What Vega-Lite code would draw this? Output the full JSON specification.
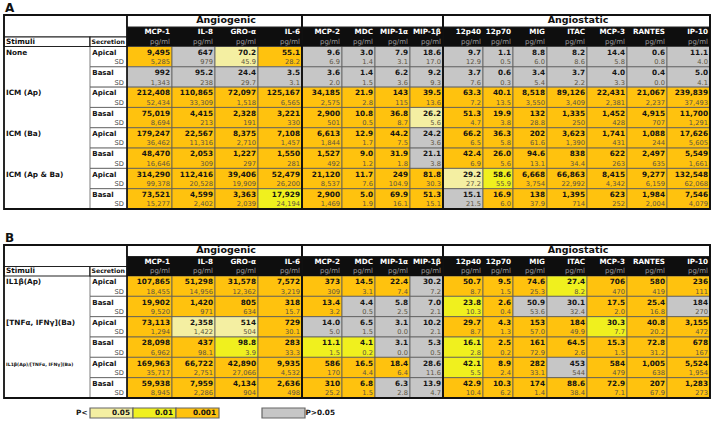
{
"$schema":"https://vega.github.io/schema/vega-lite/v6.json",
"background":"white","padding":0,"spacing":8,"bounds":"flush",
"config":{"view":{"stroke":null},"axis":{"disable":true},"legend":{"disable":true}},
"datasets":{
"panels":[{"g":"A","t":0,"n":1,"u":2,"d":3,"e":19},{"g":"B","t":20,"n":21,"u":22,"d":23,"e":35}],
"rows":[
{"id":"A1","g":"A","st":"None","se":"Apical","r":3},{"id":"A2","g":"A","st":"None","se":"Basal","r":5},
{"id":"A3","g":"A","st":"ICM (Ap)","se":"Apical","r":7},{"id":"A4","g":"A","st":"ICM (Ap)","se":"Basal","r":9},
{"id":"A5","g":"A","st":"ICM (Ba)","se":"Apical","r":11},{"id":"A6","g":"A","st":"ICM (Ba)","se":"Basal","r":13},
{"id":"A7","g":"A","st":"ICM (Ap & Ba)","se":"Apical","r":15},{"id":"A8","g":"A","st":"ICM (Ap & Ba)","se":"Basal","r":17},
{"id":"B1","g":"B","st":"IL1β(Ap)","se":"Apical","r":23},{"id":"B2","g":"B","st":"IL1β(Ap)","se":"Basal","r":25},
{"id":"B3","g":"B","st":"[TNFα, IFNγ](Ba)","se":"Apical","r":27},{"id":"B4","g":"B","st":"[TNFα, IFNγ](Ba)","se":"Basal","r":29},
{"id":"B5","g":"B","st":"IL1β(Ap)/[TNFα, IFNγ](Ba)","se":"Apical","r":31},{"id":"B6","g":"B","st":"IL1β(Ap)/[TNFα, IFNγ](Ba)","se":"Basal","r":33}],
"cols":[
{"an":"MCP-1","c":0,"grp":"Angiogenic"},{"an":"IL-8","c":1,"grp":"Angiogenic"},{"an":"GRO-α","c":2,"grp":"Angiogenic"},{"an":"IL-6","c":3,"grp":"Angiogenic"},
{"an":"MCP-2","c":4,"grp":""},{"an":"MDC","c":5,"grp":""},{"an":"MIP-1α","c":6,"grp":""},{"an":"MIP-1β","c":7,"grp":""},
{"an":"12p40","c":8,"grp":"Angiostatic"},{"an":"12p70","c":9,"grp":"Angiostatic"},{"an":"MIG","c":10,"grp":"Angiostatic"},{"an":"ITAC","c":11,"grp":"Angiostatic"},
{"an":"MCP-3","c":12,"grp":"Angiostatic"},{"an":"RANTES","c":13,"grp":"Angiostatic"},{"an":"IP-10","c":14,"grp":"Angiostatic"}],
"legend":[{"s":"0.05"},{"s":"0.01"},{"s":"0.001"},{"s":"ns"}],
"cells":[
{"id":"A1","an":"MCP-1","v":9495,"sd":5285,"s":"0.001"},{"id":"A1","an":"IL-8","v":647,"sd":979,"s":"ns"},{"id":"A1","an":"GRO-α","v":70.2,"sd":45.9,"s":"0.05"},{"id":"A1","an":"IL-6","v":55.1,"sd":28.2,"s":"0.001"},{"id":"A1","an":"MCP-2","v":9.6,"sd":6.9,"s":"ns"},{"id":"A1","an":"MDC","v":3.0,"sd":1.4,"s":"ns"},{"id":"A1","an":"MIP-1α","v":7.9,"sd":3.1,"s":"ns"},{"id":"A1","an":"MIP-1β","v":18.6,"sd":17.0,"s":"ns"},{"id":"A1","an":"12p40","v":9.7,"sd":12.9,"s":"ns"},{"id":"A1","an":"12p70","v":1.1,"sd":0.5,"s":"ns"},{"id":"A1","an":"MIG","v":8.8,"sd":6.0,"s":"ns"},{"id":"A1","an":"ITAC","v":8.2,"sd":8.6,"s":"ns"},{"id":"A1","an":"MCP-3","v":14.4,"sd":5.8,"s":"ns"},{"id":"A1","an":"RANTES","v":0.6,"sd":0.8,"s":"ns"},{"id":"A1","an":"IP-10","v":11.1,"sd":4.0,"s":"ns"},
{"id":"A2","an":"MCP-1","v":992,"sd":1343,"s":"ns"},{"id":"A2","an":"IL-8","v":95.2,"sd":238,"s":"ns"},{"id":"A2","an":"GRO-α","v":24.4,"sd":29.7,"s":"ns"},{"id":"A2","an":"IL-6","v":3.5,"sd":3.1,"s":"ns"},{"id":"A2","an":"MCP-2","v":3.6,"sd":2.0,"s":"ns"},{"id":"A2","an":"MDC","v":1.4,"sd":1.5,"s":"ns"},{"id":"A2","an":"MIP-1α","v":6.2,"sd":3.6,"s":"ns"},{"id":"A2","an":"MIP-1β","v":9.2,"sd":9.3,"s":"ns"},{"id":"A2","an":"12p40","v":3.7,"sd":7.6,"s":"ns"},{"id":"A2","an":"12p70","v":0.6,"sd":0.3,"s":"ns"},{"id":"A2","an":"MIG","v":3.4,"sd":5.4,"s":"ns"},{"id":"A2","an":"ITAC","v":3.7,"sd":2.2,"s":"ns"},{"id":"A2","an":"MCP-3","v":4.0,"sd":3.3,"s":"ns"},{"id":"A2","an":"RANTES","v":0.4,"sd":0.0,"s":"ns"},{"id":"A2","an":"IP-10","v":5.0,"sd":4.1,"s":"ns"},
{"id":"A3","an":"MCP-1","v":212408,"sd":52434,"s":"0.001"},{"id":"A3","an":"IL-8","v":110865,"sd":33309,"s":"0.001"},{"id":"A3","an":"GRO-α","v":72097,"sd":1518,"s":"0.001"},{"id":"A3","an":"IL-6","v":125167,"sd":6565,"s":"0.001"},{"id":"A3","an":"MCP-2","v":34185,"sd":2575,"s":"0.001"},{"id":"A3","an":"MDC","v":21.9,"sd":2.8,"s":"0.001"},{"id":"A3","an":"MIP-1α","v":143,"sd":115,"s":"0.001"},{"id":"A3","an":"MIP-1β","v":39.5,"sd":13.6,"s":"0.001"},{"id":"A3","an":"12p40","v":63.3,"sd":7.2,"s":"0.001"},{"id":"A3","an":"12p70","v":40.1,"sd":13.5,"s":"0.001"},{"id":"A3","an":"MIG","v":8518,"sd":3550,"s":"0.001"},{"id":"A3","an":"ITAC","v":89126,"sd":3409,"s":"0.001"},{"id":"A3","an":"MCP-3","v":22431,"sd":2381,"s":"0.001"},{"id":"A3","an":"RANTES","v":21067,"sd":2237,"s":"0.001"},{"id":"A3","an":"IP-10","v":239839,"sd":37493,"s":"0.001"},
{"id":"A4","an":"MCP-1","v":75019,"sd":8694,"s":"0.001"},{"id":"A4","an":"IL-8","v":4415,"sd":213,"s":"0.001"},{"id":"A4","an":"GRO-α","v":2328,"sd":191,"s":"0.001"},{"id":"A4","an":"IL-6","v":3221,"sd":330,"s":"0.001"},{"id":"A4","an":"MCP-2","v":2900,"sd":501,"s":"0.001"},{"id":"A4","an":"MDC","v":10.8,"sd":0.5,"s":"0.001"},{"id":"A4","an":"MIP-1α","v":36.8,"sd":8.7,"s":"0.001"},{"id":"A4","an":"MIP-1β","v":26.2,"sd":5.6,"s":"0.05"},{"id":"A4","an":"12p40","v":51.3,"sd":4.7,"s":"0.001"},{"id":"A4","an":"12p70","v":19.9,"sd":3.8,"s":"0.001"},{"id":"A4","an":"MIG","v":132,"sd":28.8,"s":"0.001"},{"id":"A4","an":"ITAC","v":1335,"sd":250,"s":"0.001"},{"id":"A4","an":"MCP-3","v":1452,"sd":428,"s":"0.001"},{"id":"A4","an":"RANTES","v":4915,"sd":707,"s":"0.001"},{"id":"A4","an":"IP-10","v":11700,"sd":1291,"s":"0.001"},
{"id":"A5","an":"MCP-1","v":179247,"sd":36462,"s":"0.001"},{"id":"A5","an":"IL-8","v":22567,"sd":11316,"s":"0.001"},{"id":"A5","an":"GRO-α","v":8375,"sd":2710,"s":"0.001"},{"id":"A5","an":"IL-6","v":7108,"sd":1457,"s":"0.001"},{"id":"A5","an":"MCP-2","v":6613,"sd":1844,"s":"0.001"},{"id":"A5","an":"MDC","v":12.9,"sd":1.7,"s":"0.001"},{"id":"A5","an":"MIP-1α","v":44.2,"sd":7.5,"s":"0.001"},{"id":"A5","an":"MIP-1β","v":24.2,"sd":3.6,"s":"ns"},{"id":"A5","an":"12p40","v":66.2,"sd":6.5,"s":"0.001"},{"id":"A5","an":"12p70","v":36.3,"sd":5.8,"s":"0.001"},{"id":"A5","an":"MIG","v":202,"sd":61.6,"s":"0.001"},{"id":"A5","an":"ITAC","v":3623,"sd":1390,"s":"0.001"},{"id":"A5","an":"MCP-3","v":1741,"sd":431,"s":"0.001"},{"id":"A5","an":"RANTES","v":1088,"sd":244,"s":"0.001"},{"id":"A5","an":"IP-10","v":17626,"sd":5605,"s":"0.001"},
{"id":"A6","an":"MCP-1","v":48470,"sd":16646,"s":"0.001"},{"id":"A6","an":"IL-8","v":2053,"sd":309,"s":"0.001"},{"id":"A6","an":"GRO-α","v":1227,"sd":297,"s":"0.001"},{"id":"A6","an":"IL-6","v":1550,"sd":281,"s":"0.001"},{"id":"A6","an":"MCP-2","v":1527,"sd":492,"s":"0.001"},{"id":"A6","an":"MDC","v":9.0,"sd":1.2,"s":"0.001"},{"id":"A6","an":"MIP-1α","v":31.9,"sd":1.8,"s":"0.001"},{"id":"A6","an":"MIP-1β","v":21.1,"sd":3.8,"s":"ns"},{"id":"A6","an":"12p40","v":42.4,"sd":6.9,"s":"0.001"},{"id":"A6","an":"12p70","v":26.0,"sd":5.6,"s":"0.001"},{"id":"A6","an":"MIG","v":94.6,"sd":13.1,"s":"0.001"},{"id":"A6","an":"ITAC","v":838,"sd":34.4,"s":"0.001"},{"id":"A6","an":"MCP-3","v":622,"sd":263,"s":"0.001"},{"id":"A6","an":"RANTES","v":2497,"sd":635,"s":"0.001"},{"id":"A6","an":"IP-10","v":5549,"sd":1661,"s":"0.001"},
{"id":"A7","an":"MCP-1","v":314290,"sd":99378,"s":"0.001"},{"id":"A7","an":"IL-8","v":112416,"sd":20528,"s":"0.001"},{"id":"A7","an":"GRO-α","v":39406,"sd":19909,"s":"0.001"},{"id":"A7","an":"IL-6","v":52479,"sd":26200,"s":"0.001"},{"id":"A7","an":"MCP-2","v":21120,"sd":8537,"s":"0.001"},{"id":"A7","an":"MDC","v":11.7,"sd":7.6,"s":"0.001"},{"id":"A7","an":"MIP-1α","v":249,"sd":104.9,"s":"0.001"},{"id":"A7","an":"MIP-1β","v":81.8,"sd":30.3,"s":"0.001"},{"id":"A7","an":"12p40","v":29.2,"sd":27.2,"s":"0.05"},{"id":"A7","an":"12p70","v":58.6,"sd":55.9,"s":"0.01"},{"id":"A7","an":"MIG","v":6668,"sd":3754,"s":"0.001"},{"id":"A7","an":"ITAC","v":66863,"sd":22992,"s":"0.001"},{"id":"A7","an":"MCP-3","v":8415,"sd":4342,"s":"0.001"},{"id":"A7","an":"RANTES","v":9277,"sd":6159,"s":"0.001"},{"id":"A7","an":"IP-10","v":132548,"sd":62068,"s":"0.001"},
{"id":"A8","an":"MCP-1","v":73521,"sd":15277,"s":"0.001"},{"id":"A8","an":"IL-8","v":4599,"sd":2402,"s":"0.001"},{"id":"A8","an":"GRO-α","v":3363,"sd":2039,"s":"0.001"},{"id":"A8","an":"IL-6","v":17929,"sd":24194,"s":"0.01"},{"id":"A8","an":"MCP-2","v":2900,"sd":1469,"s":"0.001"},{"id":"A8","an":"MDC","v":5.0,"sd":1.9,"s":"0.001"},{"id":"A8","an":"MIP-1α","v":69.9,"sd":16.1,"s":"0.001"},{"id":"A8","an":"MIP-1β","v":51.3,"sd":15.1,"s":"0.001"},{"id":"A8","an":"12p40","v":15.1,"sd":21.5,"s":"ns"},{"id":"A8","an":"12p70","v":16.9,"sd":6.0,"s":"0.001"},{"id":"A8","an":"MIG","v":138,"sd":37.9,"s":"0.001"},{"id":"A8","an":"ITAC","v":1395,"sd":714,"s":"0.001"},{"id":"A8","an":"MCP-3","v":623,"sd":252,"s":"0.001"},{"id":"A8","an":"RANTES","v":1984,"sd":2004,"s":"0.001"},{"id":"A8","an":"IP-10","v":7546,"sd":4079,"s":"0.001"},
{"id":"B1","an":"MCP-1","v":107865,"sd":18455,"s":"0.001"},{"id":"B1","an":"IL-8","v":51298,"sd":14956,"s":"0.001"},{"id":"B1","an":"GRO-α","v":31578,"sd":12362,"s":"0.001"},{"id":"B1","an":"IL-6","v":7572,"sd":3219,"s":"0.001"},{"id":"B1","an":"MCP-2","v":373,"sd":309,"s":"0.001"},{"id":"B1","an":"MDC","v":14.5,"sd":3.1,"s":"0.001"},{"id":"B1","an":"MIP-1α","v":22.4,"sd":7.4,"s":"0.001"},{"id":"B1","an":"MIP-1β","v":30.2,"sd":7.2,"s":"ns"},{"id":"B1","an":"12p40","v":50.7,"sd":8.7,"s":"0.001"},{"id":"B1","an":"12p70","v":9.5,"sd":1.5,"s":"0.001"},{"id":"B1","an":"MIG","v":74.6,"sd":25.3,"s":"0.001"},{"id":"B1","an":"ITAC","v":27.4,"sd":8.2,"s":"0.01"},{"id":"B1","an":"MCP-3","v":706,"sd":470,"s":"0.001"},{"id":"B1","an":"RANTES","v":580,"sd":419,"s":"0.001"},{"id":"B1","an":"IP-10","v":236,"sd":111,"s":"0.001"},
{"id":"B2","an":"MCP-1","v":19902,"sd":9520,"s":"0.001"},{"id":"B2","an":"IL-8","v":1420,"sd":971,"s":"0.001"},{"id":"B2","an":"GRO-α","v":805,"sd":634,"s":"0.001"},{"id":"B2","an":"IL-6","v":318,"sd":15.7,"s":"0.001"},{"id":"B2","an":"MCP-2","v":13.4,"sd":3.2,"s":"0.001"},{"id":"B2","an":"MDC","v":4.4,"sd":0.5,"s":"ns"},{"id":"B2","an":"MIP-1α","v":5.8,"sd":2.5,"s":"ns"},{"id":"B2","an":"MIP-1β","v":7.0,"sd":2.1,"s":"ns"},{"id":"B2","an":"12p40","v":23.8,"sd":10.3,"s":"0.01"},{"id":"B2","an":"12p70","v":2.6,"sd":0.4,"s":"0.001"},{"id":"B2","an":"MIG","v":50.9,"sd":53.6,"s":"ns"},{"id":"B2","an":"ITAC","v":30.1,"sd":32.4,"s":"ns"},{"id":"B2","an":"MCP-3","v":17.5,"sd":2.0,"s":"0.001"},{"id":"B2","an":"RANTES","v":25.4,"sd":16.8,"s":"0.001"},{"id":"B2","an":"IP-10","v":184,"sd":270,"s":"ns"},
{"id":"B3","an":"MCP-1","v":73113,"sd":1294,"s":"0.001"},{"id":"B3","an":"IL-8","v":2358,"sd":1422,"s":"0.05"},{"id":"B3","an":"GRO-α","v":514,"sd":504,"s":"0.05"},{"id":"B3","an":"IL-6","v":729,"sd":30.1,"s":"0.001"},{"id":"B3","an":"MCP-2","v":14.0,"sd":5.0,"s":"ns"},{"id":"B3","an":"MDC","v":6.5,"sd":1.5,"s":"ns"},{"id":"B3","an":"MIP-1α","v":3.1,"sd":0.0,"s":"ns"},{"id":"B3","an":"MIP-1β","v":10.2,"sd":2.1,"s":"ns"},{"id":"B3","an":"12p40","v":29.7,"sd":8.7,"s":"0.001"},{"id":"B3","an":"12p70","v":4.3,"sd":1.3,"s":"0.001"},{"id":"B3","an":"MIG","v":153,"sd":57.0,"s":"0.001"},{"id":"B3","an":"ITAC","v":184,"sd":49.9,"s":"0.001"},{"id":"B3","an":"MCP-3","v":30.3,"sd":7.7,"s":"0.01"},{"id":"B3","an":"RANTES","v":40.8,"sd":20.2,"s":"0.001"},{"id":"B3","an":"IP-10","v":3155,"sd":472,"s":"0.001"},
{"id":"B4","an":"MCP-1","v":28098,"sd":6962,"s":"0.001"},{"id":"B4","an":"IL-8","v":437,"sd":98.1,"s":"0.001"},{"id":"B4","an":"GRO-α","v":98.8,"sd":3.9,"s":"0.01"},{"id":"B4","an":"IL-6","v":283,"sd":33.3,"s":"0.001"},{"id":"B4","an":"MCP-2","v":11.1,"sd":1.5,"s":"0.01"},{"id":"B4","an":"MDC","v":4.1,"sd":0.2,"s":"0.01"},{"id":"B4","an":"MIP-1α","v":3.1,"sd":0.0,"s":"ns"},{"id":"B4","an":"MIP-1β","v":5.3,"sd":0.5,"s":"ns"},{"id":"B4","an":"12p40","v":16.1,"sd":2.8,"s":"0.01"},{"id":"B4","an":"12p70","v":2.5,"sd":0.2,"s":"0.001"},{"id":"B4","an":"MIG","v":161,"sd":72.9,"s":"0.001"},{"id":"B4","an":"ITAC","v":64.5,"sd":2.6,"s":"0.001"},{"id":"B4","an":"MCP-3","v":15.3,"sd":1.5,"s":"0.001"},{"id":"B4","an":"RANTES","v":72.8,"sd":31.2,"s":"0.001"},{"id":"B4","an":"IP-10","v":678,"sd":167,"s":"0.001"},
{"id":"B5","an":"MCP-1","v":169963,"sd":35717,"s":"0.001"},{"id":"B5","an":"IL-8","v":66722,"sd":2751,"s":"0.001"},{"id":"B5","an":"GRO-α","v":42890,"sd":27066,"s":"0.001"},{"id":"B5","an":"IL-6","v":9935,"sd":4532,"s":"0.001"},{"id":"B5","an":"MCP-2","v":586,"sd":170,"s":"0.001"},{"id":"B5","an":"MDC","v":16.5,"sd":4.4,"s":"0.001"},{"id":"B5","an":"MIP-1α","v":18.4,"sd":6.4,"s":"0.001"},{"id":"B5","an":"MIP-1β","v":28.6,"sd":11.6,"s":"ns"},{"id":"B5","an":"12p40","v":42.1,"sd":5.5,"s":"0.01"},{"id":"B5","an":"12p70","v":8.9,"sd":2.4,"s":"0.001"},{"id":"B5","an":"MIG","v":282,"sd":33.1,"s":"0.001"},{"id":"B5","an":"ITAC","v":453,"sd":544,"s":"ns"},{"id":"B5","an":"MCP-3","v":584,"sd":479,"s":"0.001"},{"id":"B5","an":"RANTES","v":1005,"sd":638,"s":"0.001"},{"id":"B5","an":"IP-10","v":5524,"sd":1954,"s":"0.001"},
{"id":"B6","an":"MCP-1","v":59938,"sd":8945,"s":"0.001"},{"id":"B6","an":"IL-8","v":7959,"sd":2286,"s":"0.001"},{"id":"B6","an":"GRO-α","v":4134,"sd":904,"s":"0.001"},{"id":"B6","an":"IL-6","v":2636,"sd":498,"s":"0.001"},{"id":"B6","an":"MCP-2","v":310,"sd":25.2,"s":"0.001"},{"id":"B6","an":"MDC","v":6.8,"sd":1.5,"s":"0.001"},{"id":"B6","an":"MIP-1α","v":6.3,"sd":2.8,"s":"ns"},{"id":"B6","an":"MIP-1β","v":13.9,"sd":4.7,"s":"ns"},{"id":"B6","an":"12p40","v":42.9,"sd":10.4,"s":"0.001"},{"id":"B6","an":"12p70","v":10.3,"sd":6.2,"s":"0.001"},{"id":"B6","an":"MIG","v":174,"sd":1.4,"s":"0.001"},{"id":"B6","an":"ITAC","v":88.6,"sd":38.4,"s":"0.001"},{"id":"B6","an":"MCP-3","v":72.9,"sd":7.1,"s":"0.001"},{"id":"B6","an":"RANTES","v":207,"sd":67.9,"s":"0.001"},{"id":"B6","an":"IP-10","v":1283,"sd":273,"s":"0.001"}
]},
"vconcat":[
{"width":711,"height":400,
 "data":{"name":"cells"},
 "transform":[
  {"lookup":"id","from":{"data":{"name":"rows"},"key":"id","fields":["g","st","se","r"]}},
  {"lookup":"an","from":{"data":{"name":"cols"},"key":"an","fields":["c","grp"]}},
  {"lookup":"g","from":{"data":{"name":"panels"},"key":"g","fields":["t","n","u","d","e"]}},
  {"bin":{"step":1,"extent":[-2,15],"nice":false,"anchor":-2},"field":"c","as":["c0","c1"]},
  {"bin":{"step":2,"extent":[1,37],"nice":false,"anchor":1},"field":"r","as":["r0","r1"]}
 ],
 "layer":[
  {"mark":{"type":"rect","stroke":"#5a5a5a","strokeWidth":0.8},
   "encoding":{
    "x":{"field":"c0","type":"quantitative","scale":{"domain":[-2,-1,0,1,2,3,4,5,6,7,8,9,10,11,12,13,14,15],"range":[4,90,127,172,215,258,302,342,375,410,443,483,513,547,587,627,667,710],"zero":false,"nice":false}},
    "x2":{"field":"c1"},
    "y":{"field":"r0","type":"quantitative","scale":{"domain":[0,1,2,3,19,20,21,22,23,35],"range":[15,27,37,46.5,209,245,256.5,266.5,276,398],"zero":false,"nice":false}},
    "y2":{"field":"r1"},
    "color":{"field":"s","type":"nominal","scale":{"domain":["0.05","0.01","0.001","ns"],"range":["#F4EFA2","#F0F01E","#FFC20E","#C6C6C6"]}}}},
  {"transform":[{"aggregate":[{"op":"count","as":"k"}],"groupby":["id","r0","r1"]}],
   "mark":{"type":"rect","color":"white","stroke":"#5a5a5a","strokeWidth":0.8},
   "encoding":{"x":{"datum":-1,"type":"quantitative"},"x2":{"datum":0},"y":{"field":"r0","type":"quantitative"},"y2":{"field":"r1"}}},
  {"transform":[{"filter":"datum.se == 'Apical'"},{"aggregate":[{"op":"count","as":"k"}],"groupby":["st","r"]},{"bin":{"step":4,"extent":[3,39],"nice":false,"anchor":3},"field":"r","as":["s0","s1"]}],
   "layer":[
    {"mark":{"type":"rect","color":"white","stroke":"#5a5a5a","strokeWidth":0.8},
     "encoding":{"x":{"datum":-2,"type":"quantitative"},"x2":{"datum":-1},"y":{"field":"s0","type":"quantitative"},"y2":{"field":"s1"}}}
   ]},
  {"transform":[{"aggregate":[{"op":"count","as":"k"}],"groupby":["g","t","n","u","d","e"]}],
   "layer":[
    {"mark":{"type":"rect","color":"white","stroke":"#222","strokeWidth":1.2},
     "encoding":{"x":{"datum":-2,"type":"quantitative"},"x2":{"datum":0},"y":{"field":"t","type":"quantitative"},"y2":{"field":"u"}}},
    {"mark":{"type":"rect","color":"white","stroke":"#222","strokeWidth":1.2},
     "encoding":{"x":{"datum":-2,"type":"quantitative"},"x2":{"datum":-1},"y":{"field":"u","type":"quantitative"},"y2":{"field":"d"}}},
    {"mark":{"type":"rect","color":"white","stroke":"#222","strokeWidth":1.2},
     "encoding":{"x":{"datum":-1,"type":"quantitative"},"x2":{"datum":0},"y":{"field":"u","type":"quantitative"},"y2":{"field":"d"}}}
   ]},
  {"transform":[{"aggregate":[{"op":"count","as":"k"}],"groupby":["g","an","c0","c1","n","u","d"]}],
   "mark":{"type":"rect","color":"#0e0e0e"},
   "encoding":{"x":{"field":"c0","type":"quantitative"},"x2":{"field":"c1"},"y":{"field":"n","type":"quantitative"},"y2":{"field":"d"}}},
  {"transform":[{"aggregate":[{"op":"min","field":"c0","as":"gc0"},{"op":"max","field":"c1","as":"gc1"}],"groupby":["g","grp","t","n","e"]}],
   "mark":{"type":"rect","color":"white","stroke":"#222","strokeWidth":1.2},
   "encoding":{"x":{"field":"gc0","type":"quantitative"},"x2":{"field":"gc1"},"y":{"field":"t","type":"quantitative"},"y2":{"field":"n"}}},
  {"transform":[{"filter":"datum.se == 'Apical'"},{"aggregate":[{"op":"count","as":"k"}],"groupby":["st","r"]},{"bin":{"step":4,"extent":[3,39],"nice":false,"anchor":3},"field":"r","as":["s0","s1"]}],
   "mark":{"type":"rect","filled":false,"stroke":"#111","strokeWidth":1.6},
   "encoding":{"x":{"datum":-2,"type":"quantitative"},"x2":{"datum":15},"y":{"field":"s0","type":"quantitative"},"y2":{"field":"s1"}}},
  {"transform":[{"aggregate":[{"op":"min","field":"c0","as":"gc0"},{"op":"max","field":"c1","as":"gc1"}],"groupby":["g","grp","t","n","e"]}],
   "mark":{"type":"rect","filled":false,"stroke":"#111","strokeWidth":1.6},
   "encoding":{"x":{"field":"gc0","type":"quantitative"},"x2":{"field":"gc1"},"y":{"field":"t","type":"quantitative"},"y2":{"field":"e"}}},
  {"transform":[{"aggregate":[{"op":"count","as":"k"}],"groupby":["g","t","n","u","d","e"]}],
   "mark":{"type":"rect","filled":false,"stroke":"#111","strokeWidth":1.8},
   "encoding":{"x":{"datum":-2,"type":"quantitative"},"x2":{"datum":15},"y":{"field":"t","type":"quantitative"},"y2":{"field":"e"}}},
  {"transform":[{"filter":"datum.v >= 100 && datum.v == round(datum.v)"}],
   "mark":{"type":"text","align":"right","baseline":"alphabetic","dx":-2,"dy":8.3,"font":"DejaVu Sans","fontWeight":"bold","fontSize":7.3,"color":"#141414"},
   "encoding":{"x":{"field":"c1","type":"quantitative"},"y":{"field":"r0","type":"quantitative"},"text":{"field":"v","type":"quantitative","format":",.0f"}}},
  {"transform":[{"filter":"!(datum.v >= 100 && datum.v == round(datum.v))"}],
   "mark":{"type":"text","align":"right","baseline":"alphabetic","dx":-2,"dy":8.3,"font":"DejaVu Sans","fontWeight":"bold","fontSize":7.3,"color":"#141414"},
   "encoding":{"x":{"field":"c1","type":"quantitative"},"y":{"field":"r0","type":"quantitative"},"text":{"field":"v","type":"quantitative","format":".1f"}}},
  {"transform":[{"filter":"datum.sd >= 100 && datum.sd == round(datum.sd)"}],
   "mark":{"type":"text","align":"right","baseline":"alphabetic","dx":-2,"dy":-2.6,"font":"DejaVu Sans","fontSize":6.7,"color":"#5b5340"},
   "encoding":{"x":{"field":"c1","type":"quantitative"},"y":{"field":"r1","type":"quantitative"},"text":{"field":"sd","type":"quantitative","format":",.0f"}}},
  {"transform":[{"filter":"!(datum.sd >= 100 && datum.sd == round(datum.sd))"}],
   "mark":{"type":"text","align":"right","baseline":"alphabetic","dx":-2,"dy":-2.6,"font":"DejaVu Sans","fontSize":6.7,"color":"#5b5340"},
   "encoding":{"x":{"field":"c1","type":"quantitative"},"y":{"field":"r1","type":"quantitative"},"text":{"field":"sd","type":"quantitative","format":".1f"}}},
  {"transform":[{"aggregate":[{"op":"count","as":"k"}],"groupby":["g","an","c0","c1","n","u","d"]}],
   "layer":[
    {"mark":{"type":"text","align":"right","baseline":"alphabetic","dx":-2,"dy":-2.6,"font":"DejaVu Sans","fontWeight":"bold","fontSize":7.2,"color":"white"},
     "encoding":{"x":{"field":"c1","type":"quantitative"},"y":{"field":"u","type":"quantitative"},"text":{"field":"an"}}},
    {"mark":{"type":"text","align":"right","baseline":"alphabetic","dx":-2,"dy":-2.8,"font":"DejaVu Sans","fontSize":7,"color":"#9a9a9a"},
     "encoding":{"x":{"field":"c1","type":"quantitative"},"y":{"field":"d","type":"quantitative"},"text":{"value":"pg/ml"}}}
   ]},
  {"transform":[{"fold":["c0","c1"],"as":["fk","fe"]},{"aggregate":[{"op":"mean","field":"fe","as":"mid"}],"groupby":["g","grp","n"]}],
   "mark":{"type":"text","align":"center","baseline":"alphabetic","dx":11,"dy":-3.8,"font":"DejaVu Sans","fontWeight":"bold","fontSize":9.5,"color":"#111"},
   "encoding":{"x":{"field":"mid","type":"quantitative"},"y":{"field":"n","type":"quantitative"},"text":{"field":"grp"}}},
  {"transform":[{"aggregate":[{"op":"count","as":"k"}],"groupby":["id","st","se","r"]}],
   "layer":[
    {"mark":{"type":"text","align":"left","baseline":"alphabetic","dx":2.3,"dy":8.3,"font":"DejaVu Sans","fontWeight":"bold","fontSize":7,"color":"#111"},
     "encoding":{"x":{"datum":-1,"type":"quantitative"},"y":{"field":"r","type":"quantitative"},"text":{"field":"se"}}},
    {"mark":{"type":"text","align":"right","baseline":"alphabetic","dx":-3,"dy":17.7,"font":"DejaVu Sans","fontSize":6.7,"color":"#444"},
     "encoding":{"x":{"datum":0,"type":"quantitative"},"y":{"field":"r","type":"quantitative"},"text":{"value":"SD"}}},
    {"transform":[{"filter":"datum.se == 'Apical'"}],
     "mark":{"type":"text","align":"left","baseline":"alphabetic","dx":2,"dy":8.3,"font":"DejaVu Sans","fontWeight":"bold","color":"#111"},
     "encoding":{"x":{"datum":-2,"type":"quantitative"},"y":{"field":"r","type":"quantitative"},"text":{"field":"st"},
      "size":{"condition":{"test":"length(datum.st) > 20","value":4.6},"value":7.3}}}
   ]},
  {"transform":[{"aggregate":[{"op":"count","as":"k"}],"groupby":["g","t","n","u","d","e"]}],
   "layer":[
    {"mark":{"type":"text","align":"left","baseline":"alphabetic","dx":2,"dy":-2.6,"font":"DejaVu Sans","fontWeight":"bold","fontSize":7.3,"color":"#111"},
     "encoding":{"x":{"datum":-2,"type":"quantitative"},"y":{"field":"d","type":"quantitative"},"text":{"value":"Stimuli"}}},
    {"mark":{"type":"text","align":"left","baseline":"alphabetic","dx":1.5,"dy":-2.6,"font":"DejaVu Sans","fontWeight":"bold","fontSize":6.2,"color":"#111"},
     "encoding":{"x":{"datum":-1,"type":"quantitative"},"y":{"field":"d","type":"quantitative"},"text":{"value":"Secretion"}}},
    {"mark":{"type":"text","align":"left","baseline":"alphabetic","dx":1,"dy":-3,"font":"DejaVu Sans","fontWeight":"bold","fontSize":12,"color":"#111"},
     "encoding":{"x":{"datum":-2,"type":"quantitative"},"y":{"field":"t","type":"quantitative"},"text":{"field":"g"}}}
   ]}
 ]},
{"width":711,"height":10,
 "data":{"name":"legend"},
 "layer":[
  {"mark":{"type":"rect","stroke":"#666","strokeWidth":1.2},
   "encoding":{"x":{"field":"s","type":"nominal","scale":{"domain":["P<","0.05","0.01","0.001","gap","ns","P>0.05"],"range":[47,348],"paddingInner":0,"paddingOuter":0}},
    "color":{"field":"s","type":"nominal","scale":{"domain":["0.05","0.01","0.001","ns"],"range":["#F4EFA2","#F0F01E","#FFC20E","#C6C6C6"]}}}},
  {"transform":[{"filter":"datum.s != 'ns'"}],
   "mark":{"type":"text","align":"right","baseline":"middle","dx":18.5,"font":"DejaVu Sans","fontWeight":"bold","fontSize":7.3,"color":"#141414"},
   "encoding":{"x":{"field":"s","type":"nominal"},"y":{"datum":0.5,"type":"quantitative","scale":{"domain":[0,1]}},"text":{"field":"s"}}},
  {"transform":[{"filter":"datum.s == '0.05'"}],
   "mark":{"type":"text","align":"right","baseline":"middle","dx":19,"font":"DejaVu Sans","fontWeight":"bold","fontSize":7.3,"color":"#141414"},
   "encoding":{"x":{"datum":"P<","type":"nominal"},"y":{"datum":0.5,"type":"quantitative"},"text":{"value":"P<"}}},
  {"transform":[{"filter":"datum.s == '0.05'"}],
   "mark":{"type":"text","align":"left","baseline":"middle","dx":-21,"font":"DejaVu Sans","fontWeight":"bold","fontSize":7.3,"color":"#141414"},
   "encoding":{"x":{"datum":"P>0.05","type":"nominal"},"y":{"datum":0.5,"type":"quantitative"},"text":{"value":"P>0.05"}}}
 ]}
]
}
